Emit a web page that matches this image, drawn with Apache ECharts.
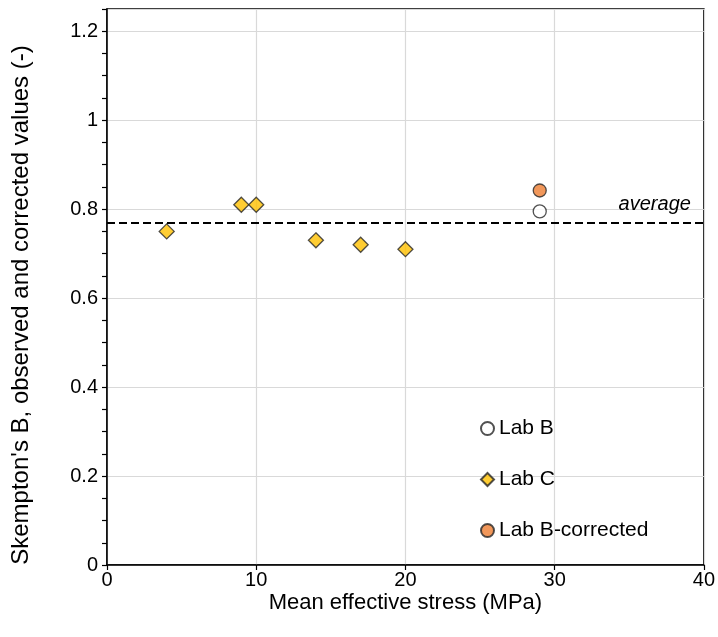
<!DOCTYPE html>
<html>
<head>
<meta charset="utf-8">
<script src="https://cdn.jsdelivr.net/npm/echarts@6/dist/echarts.min.js"></script>
<style>
  html, body { margin: 0; padding: 0; background: #fff; }
  #chart { width: 718px; height: 637px; }
</style>
</head>
<body>
<div id="chart"></div>
<script>
// Mean effective stress (MPa) and Skempton's B values per lab
const labBStress = [29];
const labBValues = [0.795];
const labCStress = [4, 9, 10, 14, 17, 20];
const labCValues = [0.75, 0.81, 0.81, 0.73, 0.72, 0.71];
const labBCorrStress = [29];
const labBCorrValues = [0.842];
const averageB = 0.767;
const xTicks = [0, 10, 20, 30, 40];
const yTicks = [0, 0.2, 0.4, 0.6, 0.8, 1, 1.2];

const pairs = (xs, ys) => xs.map((x, i) => [x, ys[i]]);
const font = 'Liberation Sans, Arial, sans-serif';

const chart = echarts.init(document.getElementById('chart'));
chart.setOption({
  animation: false,
  grid: {
    left: 107, right: 10, top: 9, bottom: 72,
    show: true, borderColor: '#000', borderWidth: 1.5, backgroundColor: 'transparent'
  },
  legend: {
    orient: 'vertical',
    left: 475, top: 413,
    itemGap: 30,
    itemWidth: 13, itemHeight: 13,
    textStyle: { fontFamily: font, fontSize: 21, color: '#000' },
    data: ['Lab B', 'Lab C', 'Lab B-corrected']
  },
  xAxis: {
    type: 'value',
    min: xTicks[0], max: xTicks[xTicks.length - 1], interval: 10,
    name: 'Mean effective stress (MPa)',
    nameLocation: 'middle', nameGap: 27, nameMoveOverlap: false,
    nameTextStyle: { fontFamily: font, fontSize: 22, color: '#000' },
    axisLine: { show: true, onZero: false, lineStyle: { color: '#000', width: 1.5 } },
    axisTick: { show: true, length: 5, lineStyle: { color: '#000', width: 1.2 } },
    axisLabel: { fontFamily: font, fontSize: 20, color: '#000', margin: 5 },
    splitLine: { show: true, lineStyle: { color: '#d9d9d9', width: 1.2 } }
  },
  yAxis: {
    type: 'value',
    min: 0, max: 1.25, interval: 0.2,
    name: "Skempton's B, observed and corrected values (-)",
    nameLocation: 'middle', nameGap: 74,
    nameTextStyle: { fontFamily: font, fontSize: 24, color: '#000', padding: [0, 36, 0, 0] },
    axisLine: { show: true, lineStyle: { color: '#000', width: 1.5 } },
    axisTick: { show: true, length: 5, lineStyle: { color: '#000', width: 1.2 } },
    minorTick: { show: true, splitNumber: 4, length: 5, lineStyle: { color: '#000', width: 1.2 } },
    axisLabel: {
      fontFamily: font, fontSize: 20, color: '#000', margin: 9,
      formatter: v => {
        const t = yTicks.find(k => Math.abs(k - v) < 1e-6);
        return t === undefined ? '' : String(t);
      }
    },
    splitLine: { show: true, lineStyle: { color: '#d9d9d9', width: 1.2 } }
  },
  series: [
    {
      name: 'Lab B', type: 'scatter',
      data: pairs(labBStress, labBValues),
      symbol: 'circle', symbolSize: 13,
      itemStyle: { color: '#ffffff', borderColor: '#262626', borderWidth: 1.3 },
      z: 3
    },
    {
      name: 'Lab C', type: 'scatter',
      data: pairs(labCStress, labCValues),
      symbol: 'diamond', symbolSize: 15,
      itemStyle: { color: '#FFC000', borderColor: '#262626', borderWidth: 1.3 },
      markLine: {
        silent: true, symbol: 'none',
        lineStyle: { color: '#000', type: [8, 4], width: 2 },
        label: {
          show: true, position: 'insideEndTop', formatter: 'average',
          fontFamily: font, fontSize: 20, fontStyle: 'italic', color: '#000',
          distance: [13, 8]
        },
        data: [{ yAxis: averageB }]
      },
      z: 3
    },
    {
      name: 'Lab B-corrected', type: 'scatter',
      data: pairs(labBCorrStress, labBCorrValues),
      symbol: 'circle', symbolSize: 13,
      itemStyle: { color: '#ED7D31', borderColor: '#262626', borderWidth: 1.3 },
      z: 3
    }
  ]
});
</script>
</body>
</html>
